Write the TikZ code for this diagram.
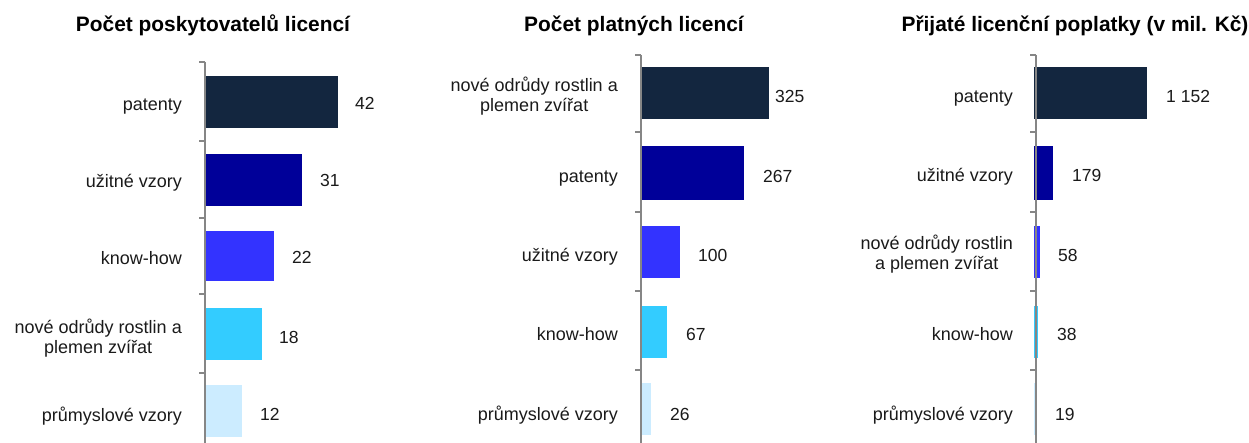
\documentclass[tikz,border=0pt]{standalone}
\usepackage{fontspec}
\setmainfont{Liberation Sans}
\usepackage{xcolor}
\usetikzlibrary{positioning}
\definecolor{barA}{HTML}{13263F}
\definecolor{barB}{HTML}{000099}
\definecolor{barC}{HTML}{3333FF}
\definecolor{barD}{HTML}{33CCFF}
\definecolor{barE}{HTML}{CCECFF}
\definecolor{asse}{HTML}{868686}
\definecolor{testo}{HTML}{1A1A1A}

\begin{document}
\begin{tikzpicture}[x=1pt, y=-1pt,
    titolo/.style={font=\fontsize{20.9}{24}\selectfont\bfseries, text=black, inner sep=0pt, anchor=base},
    etich/.style={font=\fontsize{18}{20}\selectfont, text=testo, inner sep=0pt, align=center, anchor=base east},
    valore/.style={font=\fontsize{17.5}{20}\selectfont, text=testo, inner sep=0pt, anchor=base west},
    asseline/.style={draw=asse, line width=1.8pt}]

    \useasboundingbox (0,0) rectangle (1249,443);

    % Grafico 1
    \node[titolo] (t1) at (213,32) {Počet poskytovatelů licencí};

    \fill[barA] (205,76) rectangle (338,128);
    \fill[barB] (205,154) rectangle (302,206);
    \fill[barC] (205,231) rectangle (274,281);
    \fill[barD] (205,308) rectangle (262,360);
    \fill[barE] (205,385) rectangle (242,437);

    % Asse
    \draw[asseline] (205,62) -- (205,443);
    \foreach \y in {62,141,218,294,373}
        \draw[asseline] (199,\y) -- (205,\y);

    \node[etich] (a1) at (182,111) {patenty};
    \node[etich] (a2) at (182,188) {užitné vzory};
    \node[etich] (a3) at (182,265) {know-how};
    \node[etich] (a4) at (182,353) {nové odrůdy rostlin a\\plemen zvířat};
    \node[etich] (a5) at (182,421) {průmyslové vzory};

    \node[valore] (va1) at (355,110) {42};
    \node[valore] (va2) at (320,187) {31};
    \node[valore] (va3) at (292,264) {22};
    \node[valore] (va4) at (279,343) {18};
    \node[valore] (va5) at (260,420) {12};

    % Grafico 2
    \node[titolo] (t2) at (634,32) {Počet platných licencí};

    \fill[barA] (641,67) rectangle (769,119);
    \fill[barB] (641,146) rectangle (744,200);
    \fill[barC] (641,226) rectangle (680,278);
    \fill[barD] (641,306) rectangle (667,358);
    \fill[barE] (641,383) rectangle (651,435);

    % Asse
    \draw[asseline] (641,55) -- (641,443);
    \foreach \y in {55,132,212,291,370}
        \draw[asseline] (635,\y) -- (641,\y);

    \node[etich] (b1) at (618,112) {nové odrůdy rostlin a\\plemen zvířat};
    \node[etich] (b2) at (618,183) {patenty};
    \node[etich] (b3) at (618,262) {užitné vzory};
    \node[etich] (b4) at (618,341) {know-how};
    \node[etich] (b5) at (618,420) {průmyslové vzory};

    \node[valore] (vb1) at (775,103) {325};
    \node[valore] (vb2) at (763,183) {267};
    \node[valore] (vb3) at (698,262) {100};
    \node[valore] (vb4) at (686,341) {67};
    \node[valore] (vb5) at (670,420) {26};

    % Grafico 3
    \node[titolo] (t3) at (1075,32) {Přijaté licenční poplatky (v mil. Kč)};

    \fill[barA] (1034,67) rectangle (1147,119);
    \fill[barB] (1034,146) rectangle (1053,200);
    \fill[barC] (1034,226) rectangle (1040,278);
    \fill[barD] (1034,306) rectangle (1038,358);
    \fill[barE] (1034,383) rectangle (1036,435);

    % Asse
    \draw[asseline] (1036,55) -- (1036,443);
    \foreach \y in {55,132,212,291,370}
        \draw[asseline] (1030,\y) -- (1036,\y);

    \node[etich] (c1) at (1013,103) {patenty};
    \node[etich] (c2) at (1013,182) {užitné vzory};
    \node[etich] (c3) at (1013,270) {nové odrůdy rostlin\\a plemen zvířat};
    \node[etich] (c4) at (1013,340) {know-how};
    \node[etich] (c5) at (1013,420) {průmyslové vzory};

    \node[valore] (vc1) at (1166,103) {1~152};
    \node[valore] (vc2) at (1072,182) {179};
    \node[valore] (vc3) at (1058,262) {58};
    \node[valore] (vc4) at (1057,340) {38};
    \node[valore] (vc5) at (1055,420) {19};
\end{tikzpicture}
\end{document}
